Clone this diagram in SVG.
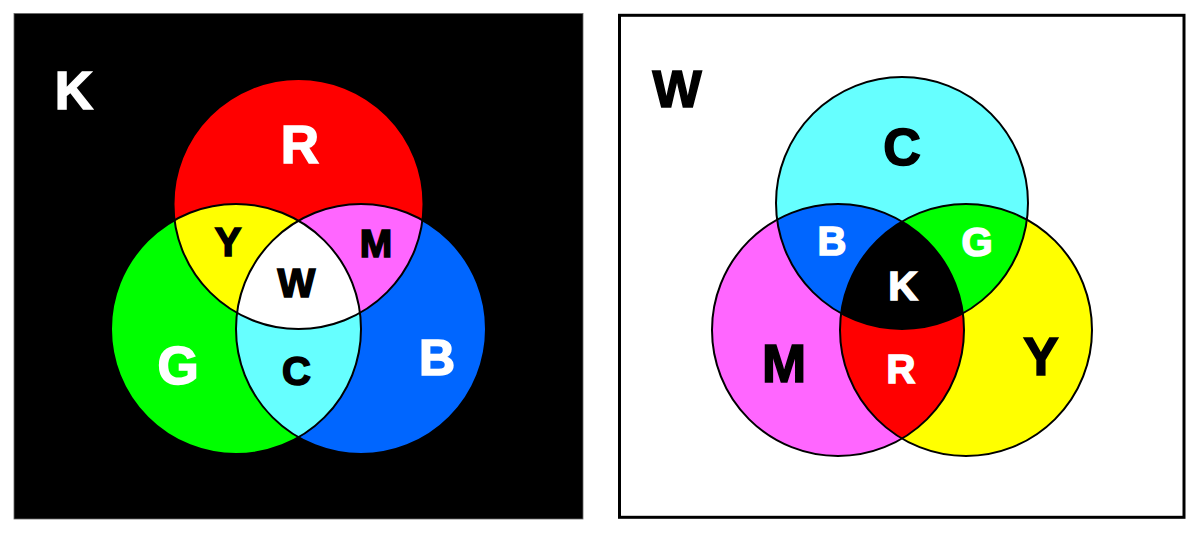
<svg xmlns="http://www.w3.org/2000/svg" width="1200" height="534" viewBox="0 0 1200 534">
  <style>
    .lbl { font-family: "Liberation Sans", Arial, sans-serif; font-weight: bold; text-anchor: middle; stroke-width: 1.6; stroke-linejoin: miter; }
    .edge { fill: none; stroke: #000; stroke-width: 2; }
    .wt { fill: #fff; stroke: #fff; }
    .bk { fill: #000; stroke: #000; }
  </style>
  <defs>
    <clipPath id="cR"><circle cx="298.5" cy="204" r="125"/></clipPath>
    <clipPath id="cG"><circle cx="236" cy="329" r="125"/></clipPath>
    <clipPath id="cB"><circle cx="361" cy="329" r="125"/></clipPath>
    <clipPath id="cC"><circle cx="902" cy="203" r="126"/></clipPath>
    <clipPath id="cM"><circle cx="838" cy="330" r="126"/></clipPath>
    <clipPath id="cY"><circle cx="966" cy="330" r="126"/></clipPath>
  </defs>
  <rect width="1200" height="534" fill="#fff"/>

  <g id="panel-additive">
    <rect x="14" y="13.5" width="569" height="505.5" fill="#000" stroke="#666" stroke-width="0.8"/>
    <g id="circle-red"><circle cx="298.5" cy="204" r="125" fill="#ff0000"/></g>
    <g id="circle-green"><circle cx="236" cy="329" r="125" fill="#00ff00"/></g>
    <g id="circle-blue"><circle cx="361" cy="329" r="125" fill="#0066ff"/></g>
    <g id="overlap-yellow"><circle cx="236" cy="329" r="125" fill="#ffff00" clip-path="url(#cR)"/></g>
    <g id="overlap-magenta"><circle cx="361" cy="329" r="125" fill="#ff66ff" clip-path="url(#cR)"/></g>
    <g id="overlap-cyan"><circle cx="361" cy="329" r="125" fill="#66ffff" clip-path="url(#cG)"/></g>
    <g id="overlap-white" clip-path="url(#cG)"><circle cx="361" cy="329" r="125" fill="#ffffff" clip-path="url(#cR)"/></g>
    <g id="outlines-left">
      <circle class="edge" cx="298.5" cy="204" r="125"/>
      <circle class="edge" cx="236" cy="329" r="125"/>
      <circle class="edge" cx="361" cy="329" r="125"/>
    </g>
    <g id="labels-left">
      <text class="lbl wt" x="74" y="108.5" font-size="53">K</text>
      <text class="lbl wt" x="300" y="162.5" font-size="53">R</text>
      <text class="lbl bk" x="228" y="255.5" font-size="40">Y</text>
      <text class="lbl bk" x="376" y="256.5" font-size="39">M</text>
      <text class="lbl bk" x="296.5" y="296.5" font-size="40">W</text>
      <text class="lbl wt" x="178" y="383.5" font-size="53">G</text>
      <text class="lbl bk" x="296.5" y="385" font-size="40">C</text>
      <text class="lbl wt" x="437" y="374.5" font-size="50">B</text>
    </g>
  </g>

  <g id="panel-subtractive">
    <rect x="619.5" y="15.3" width="564.5" height="502" fill="#fff" stroke="#000" stroke-width="3"/>
    <g id="circle-cyan"><circle cx="902" cy="203" r="126" fill="#66ffff"/></g>
    <g id="circle-magenta"><circle cx="838" cy="330" r="126" fill="#ff66ff"/></g>
    <g id="circle-yellow"><circle cx="966" cy="330" r="126" fill="#ffff00"/></g>
    <g id="overlap-blue"><circle cx="838" cy="330" r="126" fill="#0066ff" clip-path="url(#cC)"/></g>
    <g id="overlap-green"><circle cx="966" cy="330" r="126" fill="#00ff00" clip-path="url(#cC)"/></g>
    <g id="overlap-red"><circle cx="966" cy="330" r="126" fill="#ff0000" clip-path="url(#cM)"/></g>
    <g id="overlap-black" clip-path="url(#cM)"><circle cx="966" cy="330" r="126" fill="#000000" clip-path="url(#cC)"/></g>
    <g id="outlines-right">
      <circle class="edge" cx="902" cy="203" r="126"/>
      <circle class="edge" cx="838" cy="330" r="126"/>
      <circle class="edge" cx="966" cy="330" r="126"/>
    </g>
    <g id="labels-right">
      <text class="lbl bk" x="677" y="106.5" font-size="52">W</text>
      <text class="lbl bk" x="902" y="164.5" font-size="52">C</text>
      <text class="lbl wt" x="832" y="254.5" font-size="40">B</text>
      <text class="lbl wt" x="977" y="255.5" font-size="40">G</text>
      <text class="lbl wt" x="903" y="299.5" font-size="41">K</text>
      <text class="lbl bk" x="784" y="381.5" font-size="53">M</text>
      <text class="lbl wt" x="901" y="382.5" font-size="40">R</text>
      <text class="lbl bk" x="1041" y="374.5" font-size="53">Y</text>
    </g>
  </g>
</svg>
